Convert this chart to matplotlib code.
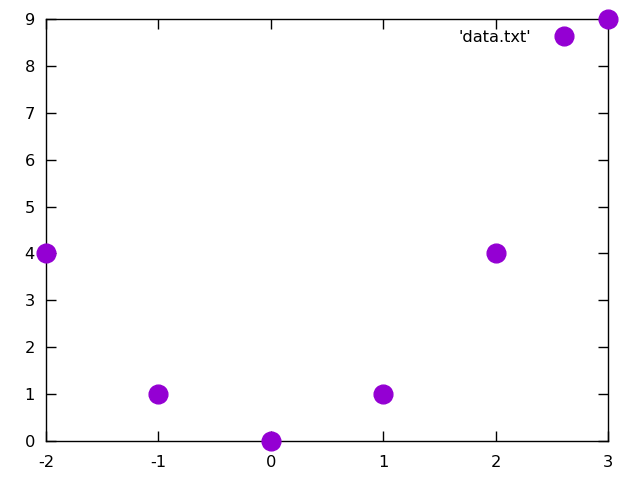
import matplotlib
matplotlib.use("Agg")
import matplotlib.pyplot as plt

x = [-2, -1, 0, 1, 2, 3]
y = [4, 1, 0, 1, 4, 9]
xticks = [-2, -1, 0, 1, 2, 3]
yticks = [0, 1, 2, 3, 4, 5, 6, 7, 8, 9]

plt.rcParams['font.family'] = ['DejaVu Sans']
plt.rcParams['axes.unicode_minus'] = False
fs = 11.7
fig = plt.figure(figsize=(6.4, 4.8), dpi=100)
ax = fig.add_axes([46/640, 1-441/480, (608-46)/640, (441-19)/480])
ax.plot(x, y, linestyle='none', marker='o', markersize=13.5, color='#9400d3',
        clip_on=False, label="'data.txt'", zorder=3)
ax.set_xlim(-2, 3)
ax.set_ylim(0, 9)
ax.set_xticks(xticks)
ax.set_yticks(yticks)
ax.tick_params(direction='in', length=7, width=1, top=True, right=True,
               labelsize=fs, colors='black')
ax.tick_params(axis='x', pad=10)
ax.tick_params(axis='y', pad=8)
for s in ax.spines.values():
    s.set_linewidth(1)
ax.legend(loc='upper right', frameon=False, markerfirst=False, fontsize=fs,
          handlelength=1.5, handletextpad=1.29, borderaxespad=0,
          bbox_to_anchor=(0.9555, 0.99))
fig.savefig('out.png', dpi=100)
